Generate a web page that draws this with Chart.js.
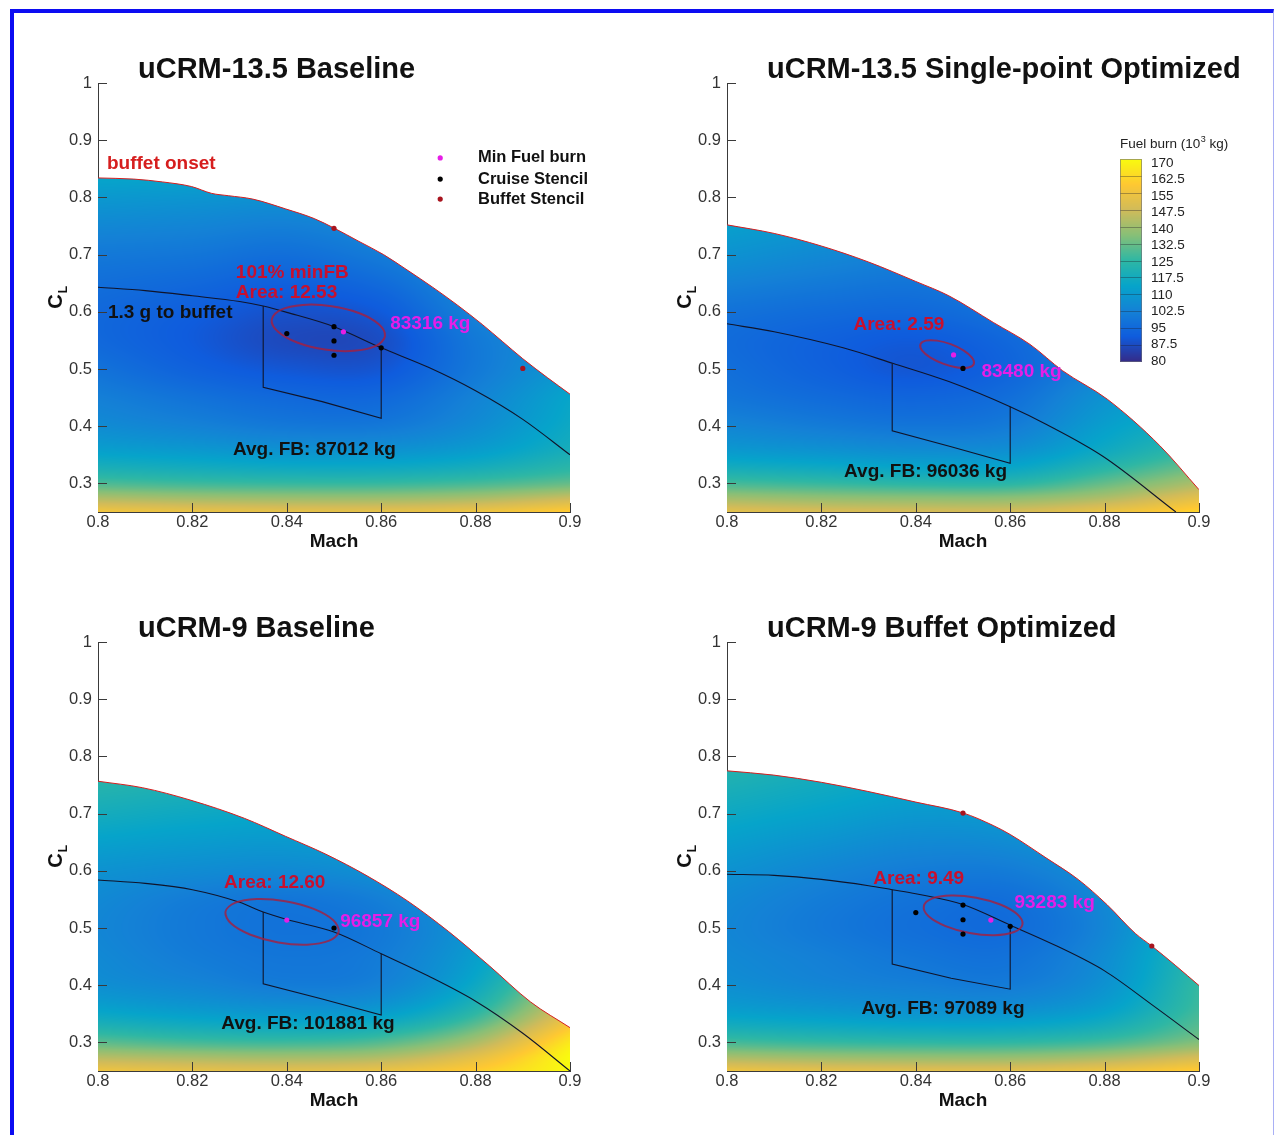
<!DOCTYPE html>
<html>
<head>
<meta charset="utf-8">
<title>Fuel burn maps</title>
<script src="https://cdn.jsdelivr.net/npm/chart.js@4.4.1/dist/chart.umd.min.js"></script>
<style>
  html, body { margin: 0; padding: 0; background: #fff; }
  #page { position: relative; width: 1276px; height: 1135px; overflow: hidden; background: #fff; }
  #page canvas { position: absolute; }
  #frame { position: absolute; left: 10px; top: 9px; width: 1264px; height: 1140px; box-sizing: border-box;
           border-left: 4px solid #0c0cf2; border-top: 4px solid #0c0cf2; border-right: 1px solid #a9b0f5;
           pointer-events: none; }
</style>
</head>
<body>
<div id="page">
  <canvas id="p1" width="629" height="559" style="left:0;top:0"></canvas>
  <canvas id="p2" width="629" height="559" style="left:629px;top:0"></canvas>
  <canvas id="p3" width="629" height="559" style="left:0;top:559px"></canvas>
  <canvas id="p4" width="629" height="559" style="left:629px;top:559px"></canvas>
  <div id="frame"></div>
</div>
<script>
// axes
const machTicks = [0.8, 0.82, 0.84, 0.86, 0.88, 0.9];
const clTicks = [0.3, 0.4, 0.5, 0.6, 0.7, 0.8, 0.9, 1];
const fbLevels = [80, 87.5, 95, 102.5, 110, 117.5, 125, 132.5, 140, 147.5, 155, 162.5, 170];

// fuel burn fields (10^3 kg), rows follow gridCL, columns follow gridMach
const gridMach = [0.80, 0.82, 0.84, 0.86, 0.88, 0.90];
const gridCL = [0.25, 0.275, 0.30, 0.35, 0.40, 0.45, 0.50, 0.55, 0.60, 0.70, 0.80, 0.85];

// uCRM-13.5 baseline
const b135Buffet = [
  {x: 0.800, y: 0.834}, {x: 0.8076, y: 0.832}, {x: 0.8137, y: 0.827}, {x: 0.8198, y: 0.819},
  {x: 0.8241, y: 0.807}, {x: 0.8276, y: 0.803}, {x: 0.8328, y: 0.797}, {x: 0.8397, y: 0.780},
  {x: 0.8458, y: 0.763}, {x: 0.8501, y: 0.746}, {x: 0.8553, y: 0.723}, {x: 0.8605, y: 0.700},
  {x: 0.8657, y: 0.672}, {x: 0.8709, y: 0.643}, {x: 0.8761, y: 0.612}, {x: 0.8814, y: 0.578},
  {x: 0.8857, y: 0.548}, {x: 0.8900, y: 0.518}, {x: 0.8952, y: 0.485}, {x: 0.9000, y: 0.456}];
const b135G13 = [
  {x: 0.80, y: 0.643}, {x: 0.81, y: 0.637}, {x: 0.82, y: 0.628}, {x: 0.83, y: 0.618},
  {x: 0.835, y: 0.610}, {x: 0.84, y: 0.599}, {x: 0.85, y: 0.574}, {x: 0.86, y: 0.537},
  {x: 0.87, y: 0.503}, {x: 0.88, y: 0.462}, {x: 0.89, y: 0.412}, {x: 0.90, y: 0.350}];
const b135Box = [{x: 0.835, y: 0.610}, {x: 0.835, y: 0.468}, {x: 0.8475, y: 0.443}, {x: 0.86, y: 0.414}, {x: 0.86, y: 0.537}];
const b135Contour = [
  {x: 0.8608, y: 0.5573}, {x: 0.8589, y: 0.5403}, {x: 0.8542, y: 0.5317}, {x: 0.8481, y: 0.5339},
  {x: 0.8422, y: 0.5463}, {x: 0.8381, y: 0.5656}, {x: 0.8368, y: 0.5865}, {x: 0.8387, y: 0.6035},
  {x: 0.8434, y: 0.6121}, {x: 0.8495, y: 0.6099}, {x: 0.8554, y: 0.5975}, {x: 0.8595, y: 0.5782}];
const b135Cruise = [{x: 0.84, y: 0.562}, {x: 0.85, y: 0.574}, {x: 0.85, y: 0.549}, {x: 0.85, y: 0.524}, {x: 0.86, y: 0.537}];
const b135Min = [{x: 0.852, y: 0.565}];
const b135Stencil = [{x: 0.85, y: 0.746}, {x: 0.89, y: 0.501}];
const b135Field = [
  [156, 154, 153, 153, 155, 160],
  [142, 140, 139, 139, 141, 146],
  [129, 127, 126, 126, 128, 132],
  [114, 112, 110, 110, 113, 120],
  [106, 103, 100, 100, 106, 116],
  [102, 98, 95, 95, 103, 114],
  [98, 93, 90, 90, 100, 110],
  [95, 91, 87, 88, 100, 108],
  [95, 92, 89, 91, 103, 110],
  [100, 99, 97, 101, 108, 114],
  [110, 109, 108, 110, 114, 118],
  [116, 116, 116, 116, 118, 120]];

// uCRM-13.5 single-point optimized
const o135Buffet = [
  {x: 0.800, y: 0.752}, {x: 0.810, y: 0.737}, {x: 0.820, y: 0.715}, {x: 0.830, y: 0.687},
  {x: 0.840, y: 0.653}, {x: 0.847, y: 0.628}, {x: 0.8565, y: 0.581}, {x: 0.8642, y: 0.543},
  {x: 0.8711, y: 0.497}, {x: 0.8806, y: 0.447}, {x: 0.8917, y: 0.366}, {x: 0.900, y: 0.289}];
const o135G13 = [
  {x: 0.80, y: 0.579}, {x: 0.81, y: 0.565}, {x: 0.8246, y: 0.537}, {x: 0.8351, y: 0.510},
  {x: 0.847, y: 0.478}, {x: 0.86, y: 0.434}, {x: 0.8677, y: 0.403}, {x: 0.8797, y: 0.347},
  {x: 0.8951, y: 0.25}];
const o135Box = [{x: 0.835, y: 0.510}, {x: 0.835, y: 0.392}, {x: 0.8475, y: 0.364}, {x: 0.86, y: 0.335}, {x: 0.86, y: 0.434}];
const o135Contour = [
  {x: 0.8523, y: 0.5090}, {x: 0.8512, y: 0.5027}, {x: 0.8488, y: 0.5027}, {x: 0.8459, y: 0.5090},
  {x: 0.8431, y: 0.5199}, {x: 0.8413, y: 0.5324}, {x: 0.8410, y: 0.5433}, {x: 0.8421, y: 0.5496},
  {x: 0.8445, y: 0.5496}, {x: 0.8474, y: 0.5434}, {x: 0.8501, y: 0.5325}, {x: 0.8519, y: 0.5198}];
const o135Cruise = [{x: 0.85, y: 0.501}];
const o135Min = [{x: 0.848, y: 0.5246}];
const o135Stencil = [];
const o135Field = [
  [152, 150, 149, 149, 154, 162],
  [140, 138, 137, 137, 142, 152],
  [128, 126, 124, 124, 132, 142],
  [112, 110, 108, 109, 118, 128],
  [104, 101, 99, 101, 112, 120],
  [99, 96, 94, 97, 108, 116],
  [97, 93, 90, 94, 104, 114],
  [96, 93, 91, 95, 104, 114],
  [98, 96, 95, 99, 107, 116],
  [108, 105, 103, 106, 112, 118],
  [116, 114, 113, 114, 116, 120],
  [119, 118, 118, 118, 118, 120]];

// uCRM-9 baseline
const b9Buffet = [
  {x: 0.800, y: 0.7566}, {x: 0.8094, y: 0.7453}, {x: 0.8197, y: 0.7233}, {x: 0.831, y: 0.6918},
  {x: 0.8397, y: 0.6604}, {x: 0.8483, y: 0.6289}, {x: 0.857, y: 0.5912}, {x: 0.8656, y: 0.5472},
  {x: 0.8743, y: 0.4937}, {x: 0.8829, y: 0.434}, {x: 0.8916, y: 0.371}, {x: 0.900, y: 0.3258}];
const b9G13 = [
  {x: 0.80, y: 0.584}, {x: 0.81, y: 0.578}, {x: 0.82, y: 0.567}, {x: 0.83, y: 0.545},
  {x: 0.835, y: 0.528}, {x: 0.84, y: 0.515}, {x: 0.85, y: 0.493}, {x: 0.86, y: 0.455},
  {x: 0.87, y: 0.416}, {x: 0.88, y: 0.372}, {x: 0.89, y: 0.316}, {x: 0.90, y: 0.25}];
const b9Box = [{x: 0.835, y: 0.528}, {x: 0.835, y: 0.4025}, {x: 0.8475, y: 0.376}, {x: 0.86, y: 0.348}, {x: 0.86, y: 0.455}];
const b9Contour = [
  {x: 0.8510, y: 0.4935}, {x: 0.8490, y: 0.4778}, {x: 0.8443, y: 0.4709}, {x: 0.8382, y: 0.4747},
  {x: 0.8323, y: 0.4882}, {x: 0.8282, y: 0.5077}, {x: 0.8270, y: 0.5281}, {x: 0.8290, y: 0.5439},
  {x: 0.8336, y: 0.5507}, {x: 0.8397, y: 0.5469}, {x: 0.8457, y: 0.5334}, {x: 0.8498, y: 0.5139}];
const b9Cruise = [{x: 0.85, y: 0.50}];
const b9Min = [{x: 0.84, y: 0.5138}];
const b9Stencil = [];
const b9Field = [
  [155, 153, 152, 154, 160, 170],
  [143, 141, 140, 142, 152, 170],
  [131, 128, 127, 130, 142, 166],
  [115, 112, 110, 112, 125, 152],
  [107, 104, 101, 103, 116, 142],
  [105, 101, 99, 101, 112, 134],
  [104, 100, 98, 100, 110, 130],
  [105, 101, 99, 102, 112, 130],
  [108, 106, 105, 108, 118, 132],
  [118, 116, 115, 118, 126, 136],
  [127, 125, 124, 125, 130, 140],
  [131, 129, 128, 128, 132, 142]];

// uCRM-9 buffet optimized
const o9Buffet = [
  {x: 0.800, y: 0.7748}, {x: 0.8099, y: 0.7673}, {x: 0.820, y: 0.7547}, {x: 0.8297, y: 0.739},
  {x: 0.840, y: 0.7201}, {x: 0.850, y: 0.7012}, {x: 0.8564, y: 0.6792}, {x: 0.860, y: 0.6635},
  {x: 0.8676, y: 0.6226}, {x: 0.8744, y: 0.5849}, {x: 0.8805, y: 0.5409}, {x: 0.8865, y: 0.4906},
  {x: 0.890, y: 0.4685}, {x: 0.8951, y: 0.434}, {x: 0.900, y: 0.3994}];
const o9G13 = [
  {x: 0.80, y: 0.594}, {x: 0.81, y: 0.592}, {x: 0.82, y: 0.585}, {x: 0.83, y: 0.574},
  {x: 0.835, y: 0.567}, {x: 0.84, y: 0.560}, {x: 0.85, y: 0.541}, {x: 0.86, y: 0.505},
  {x: 0.87, y: 0.468}, {x: 0.88, y: 0.425}, {x: 0.89, y: 0.366}, {x: 0.90, y: 0.305}];
const o9Box = [{x: 0.835, y: 0.567}, {x: 0.835, y: 0.437}, {x: 0.8475, y: 0.412}, {x: 0.86, y: 0.393}, {x: 0.86, y: 0.505}];
const o9Contour = [
  {x: 0.8626, y: 0.5063}, {x: 0.8608, y: 0.4930}, {x: 0.8567, y: 0.4875}, {x: 0.8514, y: 0.4913},
  {x: 0.8463, y: 0.5034}, {x: 0.8427, y: 0.5205}, {x: 0.8417, y: 0.5380}, {x: 0.8434, y: 0.5514},
  {x: 0.8475, y: 0.5568}, {x: 0.8528, y: 0.5530}, {x: 0.8579, y: 0.5410}, {x: 0.8615, y: 0.5239}];
const o9Cruise = [{x: 0.84, y: 0.527}, {x: 0.85, y: 0.540}, {x: 0.85, y: 0.5144}, {x: 0.85, y: 0.4894}, {x: 0.86, y: 0.503}];
const o9Min = [{x: 0.8559, y: 0.5138}];
const o9Stencil = [{x: 0.85, y: 0.701}, {x: 0.89, y: 0.4685}];
const o9Field = [
  [155, 153, 152, 152, 155, 160],
  [141, 139, 138, 138, 141, 148],
  [128, 126, 125, 125, 128, 136],
  [113, 111, 109, 109, 114, 128],
  [107, 104, 102, 101, 108, 126],
  [105, 102, 99, 98, 106, 124],
  [104, 100, 97, 96, 104, 122],
  [105, 101, 98, 97, 105, 120],
  [108, 104, 101, 101, 108, 122],
  [116, 113, 110, 111, 116, 126],
  [124, 121, 119, 119, 122, 130],
  [128, 126, 124, 124, 126, 132]];

const FONT = '"Liberation Sans", Arial, Helvetica, sans-serif';
const INK = '#111111';
const AXIS = '#3a3a3a';
const RED = '#d61e1e';
const NOTE_RED = '#c8102e';
const MAGENTA = '#e61ee6';
const STENCIL_RED = '#a8141e';

// parula-like colour map
const parula = [
  [0, [53, 42, 135]], [0.125, [15, 92, 221]], [0.25, [20, 129, 214]], [0.375, [6, 164, 202]],
  [0.5, [46, 183, 164]], [0.625, [135, 191, 119]], [0.75, [209, 187, 89]], [0.875, [254, 200, 50]],
  [1, [249, 251, 14]]];

function colorFor(v) {
  const t = Math.min(1, Math.max(0, (v - 80) / 90));
  let i = 0;
  while (i < parula.length - 2 && t > parula[i + 1][0]) i++;
  const [t0, c0] = parula[i], [t1, c1] = parula[i + 1];
  const f = (t - t0) / (t1 - t0);
  return [0, 1, 2].map(k => Math.round(c0[k] + (c1[k] - c0[k]) * f));
}

function slopes(xs, ys) {
  const n = xs.length;
  return ys.map((_, k) => {
    const dl = k > 0 ? (ys[k] - ys[k - 1]) / (xs[k] - xs[k - 1]) : null;
    const dr = k < n - 1 ? (ys[k + 1] - ys[k]) / (xs[k + 1] - xs[k]) : null;
    if (dl === null) return dr;
    if (dr === null) return dl;
    return (dl + dr) / 2;
  });
}

function hermite(xs, ys, m, x) {
  const n = xs.length;
  let i = 0;
  while (i < n - 2 && x > xs[i + 1]) i++;
  const h = xs[i + 1] - xs[i];
  const t = Math.min(1, Math.max(0, (x - xs[i]) / h));
  const t2 = t * t, t3 = t2 * t;
  return (2 * t3 - 3 * t2 + 1) * ys[i] + (t3 - 2 * t2 + t) * h * m[i] +
         (-2 * t3 + 3 * t2) * ys[i + 1] + (t3 - t2) * h * m[i + 1];
}

// paints the fuel burn field through the chart scales and returns it as a fill pattern
function fieldPattern(chart, field) {
  const a = chart.chartArea;
  if (!a || !chart.scales.x) return 'rgba(0,0,0,0)';
  const key = [a.left, a.top, a.right, a.bottom].join();
  if (chart.$field && chart.$field.key === key) return chart.$field.pattern;
  const sx = chart.scales.x, sy = chart.scales.y;
  const off = document.createElement('canvas');
  off.width = chart.width;
  off.height = chart.height;
  const octx = off.getContext('2d');
  const x0 = Math.floor(a.left), y0 = Math.floor(a.top);
  const w = Math.ceil(a.right) - x0, h = Math.ceil(a.bottom) - y0;
  const img = octx.createImageData(w, h);
  const rowSlopes = field.map(r => slopes(gridMach, r));
  const cls = [];
  for (let j = 0; j < h; j++) cls.push(sy.getValueForPixel(y0 + j + 0.5));
  for (let i = 0; i < w; i++) {
    const mach = sx.getValueForPixel(x0 + i + 0.5);
    const col = field.map((r, k) => hermite(gridMach, r, rowSlopes[k], mach));
    const cs = slopes(gridCL, col);
    for (let j = 0; j < h; j++) {
      const c = colorFor(hermite(gridCL, col, cs, cls[j]));
      const p = (j * w + i) * 4;
      img.data[p] = c[0]; img.data[p + 1] = c[1]; img.data[p + 2] = c[2]; img.data[p + 3] = 255;
    }
  }
  octx.putImageData(img, x0, y0);
  const pattern = chart.ctx.createPattern(off, 'no-repeat');
  chart.$field = {key, pattern};
  return pattern;
}

const panels = [
  {
    canvas: 'p1', title: 'uCRM-13.5 Baseline',
    buffet: b135Buffet, g13: b135G13, box: b135Box, contour: b135Contour,
    cruise: b135Cruise, minFB: b135Min, stencil: b135Stencil, field: b135Field,
    notes: [
      {text: 'buffet onset', x: 0.8019, y: 0.8586, color: RED},
      {text: '101% minFB', x: 0.8292, y: 0.6684, color: NOTE_RED},
      {text: 'Area: 12.53', x: 0.8292, y: 0.6335, color: NOTE_RED},
      {text: '83316 kg', x: 0.8619, y: 0.5794, color: MAGENTA},
      {text: '1.3 g to buffet', x: 0.8021, y: 0.5986, color: INK},
      {text: 'Avg. FB: 87012 kg', x: 0.8286, y: 0.3595, color: INK}
    ],
    legend: {dotX: 0.8725, textX: 0.8805, rows: [0.869, 0.832, 0.797]}
  },
  {
    canvas: 'p2', title: 'uCRM-13.5 Single-point Optimized',
    buffet: o135Buffet, g13: o135G13, box: o135Box, contour: o135Contour,
    cruise: o135Cruise, minFB: o135Min, stencil: o135Stencil, field: o135Field,
    notes: [
      {text: 'Area: 2.59', x: 0.8268, y: 0.5777, color: NOTE_RED},
      {text: '83480 kg', x: 0.8539, y: 0.4956, color: MAGENTA},
      {text: 'Avg. FB: 96036 kg', x: 0.8248, y: 0.3211, color: INK}
    ],
    colorbar: {left: 491, top: 159, width: 22, height: 203}
  },
  {
    canvas: 'p3', title: 'uCRM-9 Baseline',
    buffet: b9Buffet, g13: b9G13, box: b9Box, contour: b9Contour,
    cruise: b9Cruise, minFB: b9Min, stencil: b9Stencil, field: b9Field,
    notes: [
      {text: 'Area: 12.60', x: 0.8267, y: 0.5794, color: NOTE_RED},
      {text: '96857 kg', x: 0.8513, y: 0.5113, color: MAGENTA},
      {text: 'Avg. FB: 101881 kg', x: 0.8261, y: 0.3333, color: INK}
    ]
  },
  {
    canvas: 'p4', title: 'uCRM-9 Buffet Optimized',
    buffet: o9Buffet, g13: o9G13, box: o9Box, contour: o9Contour,
    cruise: o9Cruise, minFB: o9Min, stencil: o9Stencil, field: o9Field,
    notes: [
      {text: 'Area: 9.49', x: 0.8310, y: 0.5864, color: NOTE_RED},
      {text: '93283 kg', x: 0.8609, y: 0.5445, color: MAGENTA},
      {text: 'Avg. FB: 97089 kg', x: 0.8285, y: 0.3595, color: INK}
    ]
  }
];

function drawColorbar(ctx, cb) {
  const {left, top, width, height} = cb;
  const bottom = top + height;
  for (let j = 0; j < height; j++) {
    const c = colorFor(170 - (j + 0.5) / height * 90);
    ctx.fillStyle = `rgb(${c[0]},${c[1]},${c[2]})`;
    ctx.fillRect(left, top + j, width, 1);
  }
  ctx.strokeStyle = 'rgba(30,30,40,0.35)';
  ctx.lineWidth = 1;
  ctx.beginPath();
  fbLevels.slice(1, -1).forEach(v => {
    const y = Math.round(bottom - (v - 80) / 90 * height) + 0.5;
    ctx.moveTo(left, y);
    ctx.lineTo(left + width, y);
  });
  ctx.stroke();
  ctx.strokeStyle = 'rgba(110,110,120,0.6)';
  ctx.strokeRect(left + 0.5, top + 0.5, width - 1, height - 1);
  ctx.fillStyle = '#222';
  ctx.textAlign = 'left';
  ctx.textBaseline = 'middle';
  ctx.font = `13.5px ${FONT}`;
  fbLevels.forEach(v => ctx.fillText(String(v), left + width + 9, bottom - 1 - (v - 80) / 90 * (height - 5)));
  // title with superscript
  const ty = top - 15;
  let x = left;
  ctx.fillText('Fuel burn (10', x, ty);
  x += ctx.measureText('Fuel burn (10').width + 0.5;
  ctx.font = `9px ${FONT}`;
  ctx.fillText('3', x, ty - 4);
  x += ctx.measureText('3').width;
  ctx.font = `13.5px ${FONT}`;
  ctx.fillText(' kg)', x, ty);
}

function decoPlugin(panel) {
  return {
    id: 'deco',
    afterDatasetsUpdate(chart) {
      // make the 101% contour a closed smooth loop
      chart.data.datasets.forEach((ds, i) => {
        if (!ds.closed) return;
        const line = chart.getDatasetMeta(i).dataset;
        if (!line) return;
        line._loop = true;
        line._fullLoop = true;
        line._pointsUpdated = false;
        line._segments = undefined;
        line._path = undefined;
      });
    },
    afterDraw(chart) {
      const {ctx, chartArea: a} = chart;
      const sx = chart.scales.x, sy = chart.scales.y;
      const px = v => sx.getPixelForValue(v), py = v => sy.getPixelForValue(v);
      ctx.save();
      // inward tick marks
      ctx.strokeStyle = AXIS;
      ctx.lineWidth = 1;
      ctx.beginPath();
      machTicks.slice(1).forEach(v => {
        const x = Math.round(px(v)) + 0.5;
        ctx.moveTo(x, a.bottom);
        ctx.lineTo(x, a.bottom - 9);
      });
      clTicks.forEach(v => {
        const y = Math.round(py(v)) + 0.5;
        ctx.moveTo(a.left, y);
        ctx.lineTo(a.left + 9, y);
      });
      ctx.stroke();

      ctx.textBaseline = 'middle';
      ctx.textAlign = 'left';
      // panel title
      ctx.fillStyle = INK;
      ctx.font = `bold 29px ${FONT}`;
      ctx.fillText(panel.title, a.left + 40, a.top - 13);

      // annotations
      ctx.font = `bold 19px ${FONT}`;
      panel.notes.forEach(n => {
        ctx.fillStyle = n.color;
        ctx.fillText(n.text, px(n.x), py(n.y));
      });

      // legend
      if (panel.legend) {
        const lg = panel.legend;
        const entries = chart.data.datasets.filter(ds => ds.legendRow !== undefined);
        ctx.font = `bold 16.5px ${FONT}`;
        entries.forEach(ds => {
          const y = py(lg.rows[ds.legendRow]);
          ctx.fillStyle = ds.pointBackgroundColor;
          ctx.beginPath();
          ctx.arc(px(lg.dotX), y, 2.6, 0, Math.PI * 2);
          ctx.fill();
          ctx.fillStyle = INK;
          ctx.fillText(ds.label, px(lg.textX), y);
        });
      }

      if (panel.colorbar) drawColorbar(ctx, panel.colorbar);

      // C_L axis title
      ctx.translate(a.left - 42, py(0.618));
      ctx.rotate(-Math.PI / 2);
      ctx.fillStyle = INK;
      ctx.textAlign = 'center';
      ctx.font = `bold 20px ${FONT}`;
      ctx.fillText('C', 0, 0);
      ctx.font = `bold 12px ${FONT}`;
      ctx.fillText('L', 12, 8);
      ctx.restore();
    }
  };
}

function buildChart(panel) {
  const datasets = [
    {
      label: 'buffet onset', data: panel.buffet, order: 10,
      borderColor: RED, borderWidth: 1, cubicInterpolationMode: 'monotone',
      fill: 'start', backgroundColor: c => fieldPattern(c.chart, panel.field)
    },
    {
      label: '1.3 g to buffet', data: panel.g13, order: 5,
      borderColor: '#10142a', borderWidth: 1.1, cubicInterpolationMode: 'monotone', fill: false
    },
    {
      label: 'stencil box', data: panel.box, order: 5,
      borderColor: '#10142a', borderWidth: 1.1, tension: 0, fill: false
    },
    {
      label: '101% minFB', data: panel.contour, order: 4, closed: true,
      borderColor: 'rgba(168,30,60,0.8)', borderWidth: 2, tension: 0.35, fill: false
    },
    {
      label: 'Min Fuel burn', data: panel.minFB, order: 1, legendRow: 0, showLine: false,
      pointRadius: 2.6, pointBorderWidth: 0, pointBackgroundColor: MAGENTA
    },
    {
      label: 'Cruise Stencil', data: panel.cruise, order: 2, legendRow: 1, showLine: false,
      pointRadius: 2.6, pointBorderWidth: 0, pointBackgroundColor: '#000000'
    },
    {
      label: 'Buffet Stencil', data: panel.stencil, order: 2, legendRow: 2, showLine: false,
      pointRadius: 2.6, pointBorderWidth: 0, pointBackgroundColor: STENCIL_RED
    }
  ];

  return new Chart(document.getElementById(panel.canvas), {
    type: 'line',
    data: {datasets},
    plugins: [decoPlugin(panel)],
    options: {
      responsive: false,
      animation: false,
      events: [],
      elements: {point: {radius: 0, hoverRadius: 0}},
      layout: {padding: {top: 83, right: 59, left: 0, bottom: 0}},
      plugins: {legend: {display: false}, tooltip: {enabled: false}},
      scales: {
        x: {
          type: 'linear', min: 0.8, max: 0.9, z: 1,
          afterBuildTicks: s => { s.ticks = machTicks.map(v => ({value: v})); },
          afterFit: s => { s.height = 47; },
          grid: {display: false, drawTicks: false},
          border: {display: true, color: AXIS, width: 1},
          ticks: {color: '#333', padding: 1, maxRotation: 0, autoSkip: false,
                  font: {family: FONT, size: 16.5}, callback: v => String(v)},
          title: {display: true, text: 'Mach', color: INK,
                  font: {family: FONT, size: 19, weight: 'bold'}, padding: {top: 0, bottom: 6}}
        },
        y: {
          type: 'linear', min: 0.25, max: 1, z: 1,
          afterBuildTicks: s => { s.ticks = clTicks.map(v => ({value: v})); },
          afterFit: s => { s.width = 98; },
          grid: {display: false, drawTicks: false},
          border: {display: true, color: AXIS, width: 1},
          ticks: {color: '#333', padding: 6, autoSkip: false,
                  font: {family: FONT, size: 16.5}, callback: v => String(v)}
        }
      }
    }
  });
}

panels.forEach(buildChart);
</script>
</body>
</html>
